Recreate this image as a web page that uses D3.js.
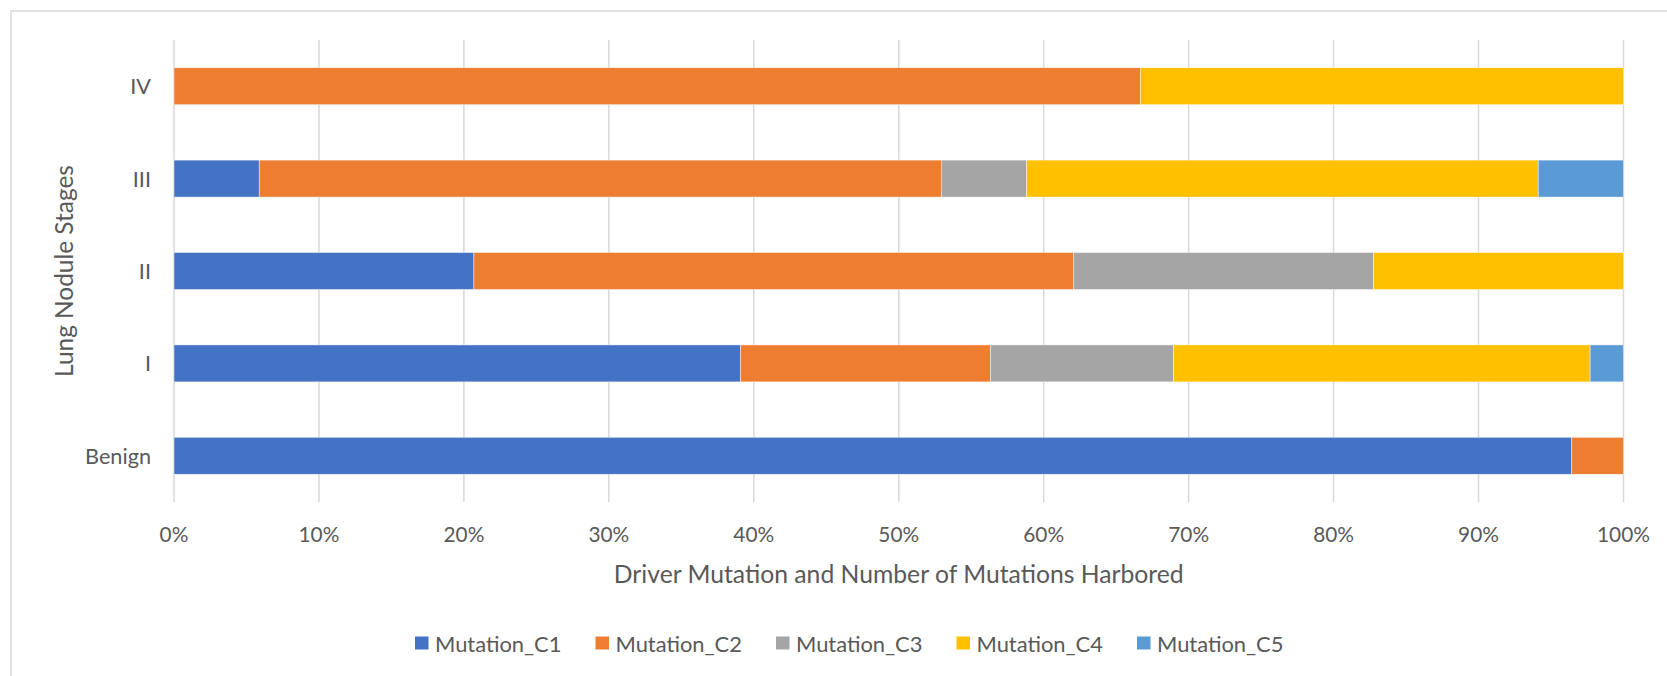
<!DOCTYPE html>
<html>
<head>
<meta charset="utf-8">
<script src="https://cdn.jsdelivr.net/npm/d3@7"></script>
<style>
  html, body { margin: 0; padding: 0; background: #fff; overflow: hidden; }
  text { font-family: Lato, "Open Sans", sans-serif; fill: #595959; }
</style>
</head>
<body>
<svg id="chart" width="1667" height="676"></svg>
<script>
// stages, bottom to top as in the source table
const stages = ['Benign', 'I', 'II', 'III', 'IV'];
const seriesNames = ['Mutation_C1', 'Mutation_C2', 'Mutation_C3', 'Mutation_C4', 'Mutation_C5'];
const seriesColors = ['#4472C4', '#ED7D31', '#A5A5A5', '#FFC000', '#5B9BD5'];

// number of nodules per stage
const mutationC1 = [27, 34, 6, 1, 0];
const mutationC2 = [1, 15, 12, 8, 2];
const mutationC3 = [0, 11, 6, 1, 0];
const mutationC4 = [0, 25, 5, 6, 1];
const mutationC5 = [0, 2, 0, 1, 0];

const xTicks = [0, 0.1, 0.2, 0.3, 0.4, 0.5, 0.6, 0.7, 0.8, 0.9, 1];
const xTitle = 'Driver Mutation and Number of Mutations Harbored';
const yTitle = 'Lung Nodule Stages';

const seriesValues = [mutationC1, mutationC2, mutationC3, mutationC4, mutationC5];
const rows = stages.map((s, i) => {
  const r = { stage: s };
  seriesNames.forEach((n, j) => { r[n] = seriesValues[j][i]; });
  return r;
});

const svg = d3.select('#chart');
const plot = { left: 174, right: 1623.5, top: 40, bottom: 502 };

// fit a text selection's font size so the given element hits the target width
function fitFont(sel, probe, targetWidth) {
  sel.style('font-size', '20px');
  const w = probe.node().getComputedTextLength();
  sel.style('font-size', `${20 * targetWidth / w}px`);
}

// outer chart border (right/bottom edges fall outside the picture)
svg.append('rect')
  .attr('x', 11).attr('y', 11)
  .attr('width', 1720).attr('height', 720)
  .attr('fill', 'none')
  .attr('stroke', '#d9d9d9')
  .attr('stroke-width', 1.5);

const x = d3.scaleLinear().domain([0, 1]).range([plot.left, plot.right]);
const y = d3.scaleBand()
  .domain(stages.slice().reverse())
  .range([plot.top, plot.bottom])
  .paddingInner(0.6)
  .paddingOuter(0.3);

// vertical gridlines
svg.append('g').attr('class', 'grid')
  .selectAll('line')
  .data(xTicks)
  .join('line')
  .attr('x1', d => x(d)).attr('x2', d => x(d))
  .attr('y1', plot.top).attr('y2', plot.bottom)
  .attr('stroke', '#d9d9d9')
  .attr('stroke-width', 1.5);

// stacked bars, normalised to 100%
const stacked = d3.stack().keys(seriesNames).offset(d3.stackOffsetExpand)(rows);

svg.append('g').attr('class', 'bars')
  .selectAll('g')
  .data(stacked)
  .join('g')
  .attr('fill', (d, i) => seriesColors[i])
  .selectAll('rect')
  .data(d => d.filter(s => s[1] - s[0] > 0))
  .join('rect')
  .attr('x', d => x(d[0]))
  .attr('width', d => x(d[1]) - x(d[0]))
  .attr('y', d => y(d.data.stage))
  .attr('height', y.bandwidth())
  .attr('stroke', '#ffffff')
  .attr('stroke-opacity', 0.6)
  .attr('stroke-width', 0.75);

// x tick labels
const xLabels = svg.append('g').attr('class', 'x-labels');
xLabels.selectAll('text')
  .data(xTicks)
  .join('text')
  .attr('x', d => x(d))
  .attr('y', 533)
  .attr('text-anchor', 'middle')
  .attr('dominant-baseline', 'central')
  .text(d3.format('.0%'));
fitFont(xLabels, xLabels.selectAll('text').filter(d => d === 1), 53);

// y tick labels
const yLabels = svg.append('g').attr('class', 'y-labels');
yLabels.selectAll('text')
  .data(stages)
  .join('text')
  .attr('x', 151)
  .attr('y', d => y(d) + y.bandwidth() / 2)
  .attr('text-anchor', 'end')
  .attr('dominant-baseline', 'central')
  .text(d => d);
fitFont(yLabels, yLabels.selectAll('text').filter(d => d === 'Benign'), 66);

// axis titles
const xt = svg.append('text')
  .attr('x', (plot.left + plot.right) / 2)
  .attr('y', 573)
  .attr('text-anchor', 'middle')
  .attr('dominant-baseline', 'central')
  .text(xTitle);
fitFont(xt, xt, 570);

const yt = svg.append('text')
  .attr('transform', `translate(63, ${(plot.top + plot.bottom) / 2}) rotate(-90)`)
  .attr('text-anchor', 'middle')
  .attr('dominant-baseline', 'central')
  .text(yTitle);
fitFont(yt, yt, 212);

// legend
const legend = svg.append('g').attr('class', 'legend');
const items = legend.selectAll('g')
  .data(seriesNames)
  .join('g')
  .attr('transform', (d, i) => `translate(${415 + i * 180.5}, 643)`);
items.append('rect')
  .attr('x', 0).attr('y', -6.5)
  .attr('width', 13.5).attr('height', 13)
  .attr('fill', (d, i) => seriesColors[i]);
items.append('text')
  .attr('x', 20)
  .attr('y', 0)
  .attr('dominant-baseline', 'central')
  .text(d => d);
fitFont(legend, items.select('text').filter(d => d === 'Mutation_C1'), 126.5);
</script>
</body>
</html>
